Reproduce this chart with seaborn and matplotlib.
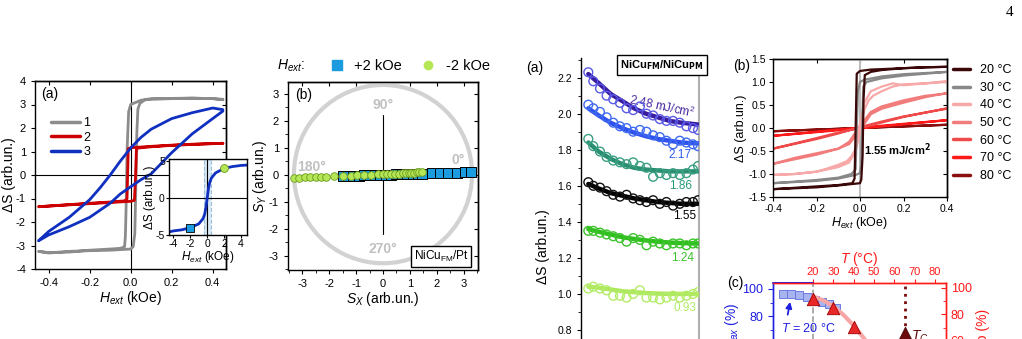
import matplotlib
matplotlib.use("Agg")
import matplotlib.pyplot as plt
import matplotlib.patches as mpatches
from matplotlib.lines import Line2D
from matplotlib.ticker import MultipleLocator, FormatStrFormatter
import seaborn as sns

# ---------------- data ----------------
# panel 1: hysteresis loops (descending branch + ascending branch)
gray_H = [0.45, 0.4, 0.3, 0.2, 0.1, 0.05, 0.0, -0.01, -0.018, -0.022, -0.026, -0.03, -0.05, -0.1, -0.2, -0.3, -0.4, -0.45,
          -0.4, -0.3, -0.2, -0.1, 0.0, 0.012, 0.02, 0.025, 0.03, 0.035, 0.045, 0.07, 0.1, 0.2, 0.3, 0.4, 0.45]
gray_S = [3.2, 3.25, 3.27, 3.26, 3.25, 3.18, 3.0, 2.7, 1.0, -1.2, -2.6, -3.05, -3.12, -3.15, -3.2, -3.28, -3.3, -3.25,
          -3.32, -3.25, -3.22, -3.2, -3.15, -3.05, -2.5, -0.5, 1.8, 2.8, 3.05, 3.2, 3.22, 3.25, 3.27, 3.25, 3.22]
red_H = [0.45, 0.3, 0.2, 0.1, 0.0, -0.012, -0.015, -0.018, -0.03, -0.1, -0.2, -0.3, -0.45,
         -0.3, -0.2, -0.1, 0.0, 0.018, 0.024, 0.028, 0.04, 0.1, 0.2, 0.3, 0.45]
red_S = [1.35, 1.31, 1.27, 1.22, 1.16, 1.12, 0.0, -1.02, -1.1, -1.15, -1.2, -1.26, -1.35,
         -1.27, -1.22, -1.17, -1.12, -1.08, 0.0, 1.12, 1.15, 1.2, 1.26, 1.3, 1.35]
blue_H = [0.45, 0.4, 0.3, 0.2, 0.1, 0.05, 0.0, -0.05, -0.1, -0.15, -0.2, -0.3, -0.4, -0.45,
          -0.4, -0.3, -0.2, -0.1, -0.05, 0.0, 0.05, 0.1, 0.15, 0.2, 0.3, 0.4, 0.45]
blue_S = [2.78, 2.85, 2.65, 2.4, 1.95, 1.6, 1.15, 0.6, 0.0, -0.55, -1.05, -1.8, -2.4, -2.8,
          -2.55, -2.2, -1.8, -1.2, -0.8, -0.5, -0.2, 0.05, 0.5, 0.95, 1.75, 2.4, 2.72]
loop_labels = ["1", "2", "3"]

# inset curve
inset_H = [-4.6, -4.0, -3.0, -2.0, -1.0, -0.5, -0.3, -0.15, 0.0, 0.15, 0.3, 0.5, 1.0, 2.0, 3.0, 4.0, 4.7]
inset_S = [-4.6, -4.45, -4.3, -4.0, -3.5, -2.8, -2.2, -1.3, 0.0, 1.3, 2.1, 2.7, 3.4, 4.0, 4.25, 4.4, 4.45]

# panel 2: S_Y vs S_X
sq_x = [-1.5, -1.3, -1.1, -0.9, -0.7, -0.5, -0.3, -0.1, 0.1, 0.3, 0.5, 0.7, 0.9, 1.1, 1.3, 1.45,
        1.8, 2.1, 2.4, 2.75, 3.05, 3.25]
sq_y = [-0.05, -0.04, -0.03, -0.03, -0.02, -0.01, -0.01, 0.0, 0.0, 0.01, 0.02, 0.02, 0.03, 0.04, 0.05, 0.05,
        0.06, 0.07, 0.08, 0.08, 0.09, 0.1]
ci_x = [-3.3, -3.1, -2.9, -2.7, -2.5, -2.3, -2.1, -1.8, -1.5, -1.2, -0.95, -0.7, -0.45, -0.2, 0.0, 0.15,
        0.3, 0.45, 0.6, 0.75, 0.85, 0.95, 1.05, 1.15, 1.25, 1.35, 1.45]
ci_y = [-0.1, -0.1, -0.09, -0.09, -0.08, -0.07, -0.06, -0.03, -0.04, -0.03, -0.02, -0.02, 0.0, 0.02, 0.03, 0.03,
        0.04, 0.05, 0.05, 0.06, 0.07, 0.07, 0.08, 0.08, 0.09, 0.1, 0.1]

# panel 3 (a): decays for several anisotropy energies
energies = ["2.48 mJ/cm$^2$", "2.17", "1.86", "1.55", "1.24", "0.93"]
pts_x = [0.062, 0.104, 0.161, 0.217, 0.273, 0.33, 0.386, 0.442, 0.499, 0.555, 0.611, 0.668,
         0.724, 0.78, 0.837, 0.893, 0.949, 0.992]
pts_y = [
    [2.23, 2.18, 2.14, 2.10, 2.08, 2.06, 2.03, 2.02, 2.04, 2.0, 1.99, 1.97, 1.96, 1.96, 1.95, 1.93, 1.92, 1.91],
    [2.05, 2.03, 2.01, 1.98, 1.95, 1.93, 1.92, 1.90, 1.91, 1.90, 1.88, 1.87, 1.85, 1.83, 1.85, 1.84, 1.83, 1.82],
    [1.86, 1.82, 1.79, 1.76, 1.74, 1.73, 1.72, 1.73, 1.71, 1.70, 1.65, 1.67, 1.66, 1.67, 1.66, 1.67, 1.69, 1.71],
    [1.62, 1.60, 1.59, 1.57, 1.55, 1.54, 1.55, 1.53, 1.52, 1.51, 1.52, 1.50, 1.51, 1.49, 1.50, 1.51, 1.51, 1.52],
    [1.35, 1.35, 1.34, 1.33, 1.32, 1.31, 1.29, 1.31, 1.30, 1.27, 1.29, 1.28, 1.27, 1.28, 1.28, 1.27, 1.28, 1.28],
    [1.03, 1.04, 1.03, 1.02, 0.99, 0.99, 0.98, 1.0, 1.02, 0.98, 0.98, 0.97, 0.98, 0.99, 0.98, 0.99, 1.0, 1.01],
]
fit_x = [0.062, 0.15, 0.25, 0.35, 0.45, 0.55, 0.65, 0.75, 0.85, 0.99]
fit_y = [
    [2.22, 2.17, 2.11, 2.07, 2.03, 2.0, 1.98, 1.96, 1.95, 1.94],
    [2.03, 1.99, 1.95, 1.92, 1.895, 1.875, 1.86, 1.85, 1.84, 1.835],
    [1.84, 1.79, 1.75, 1.72, 1.70, 1.69, 1.685, 1.68, 1.68, 1.68],
    [1.61, 1.585, 1.56, 1.545, 1.53, 1.52, 1.51, 1.505, 1.50, 1.50],
    [1.36, 1.345, 1.33, 1.315, 1.305, 1.297, 1.29, 1.285, 1.282, 1.28],
    [1.04, 1.035, 1.025, 1.015, 1.01, 1.005, 1.002, 1.0, 1.0, 1.0],
]
label_pos = [(0.69, 2.04), (0.84, 1.77), (0.84, 1.60), (0.88, 1.43), (0.86, 1.20), (0.88, 0.92)]

# panel 4 (b): loops vs temperature
temps = ["20 °C", "30 °C", "40 °C", "50 °C", "60 °C", "70 °C", "80 °C"]
t_H = [
    [0.4, 0.3, 0.2, 0.1, 0.05, 0.0, -0.015, -0.02, -0.025, -0.035, -0.1, -0.2, -0.3, -0.4,
     -0.3, -0.2, -0.1, 0.0, 0.006, 0.012, 0.016, 0.022, 0.05, 0.1, 0.2, 0.3, 0.4],
    [0.4, 0.2, 0.1, 0.02, 0.0, -0.01, -0.015, -0.02, -0.04, -0.1, -0.2, -0.4,
     -0.2, -0.1, -0.02, 0.0, 0.005, 0.01, 0.015, 0.03, 0.1, 0.2, 0.4],
    [0.4, 0.3, 0.2, 0.15, 0.1, 0.05, 0.02, 0.0, -0.02, -0.04, -0.06, -0.1, -0.15, -0.2, -0.3, -0.4,
     -0.3, -0.2, -0.15, -0.1, -0.05, -0.02, 0.0, 0.02, 0.04, 0.06, 0.1, 0.15, 0.2, 0.3, 0.4],
    [0.4, 0.3, 0.2, 0.1, 0.05, 0.0, -0.05, -0.1, -0.2, -0.3, -0.4,
     -0.3, -0.2, -0.1, -0.05, 0.0, 0.05, 0.1, 0.2, 0.3, 0.4],
    [0.4, 0.2, 0.1, 0.0, -0.1, -0.2, -0.4, -0.2, -0.1, 0.0, 0.1, 0.2, 0.4],
    [0.4, 0.0, -0.4, 0.0, 0.4],
    [0.4, 0.0, -0.4, 0.0, 0.4],
]
t_S = [
    [1.33, 1.32, 1.3, 1.28, 1.27, 1.24, 1.18, 0.0, -1.1, -1.2, -1.24, -1.27, -1.3, -1.33,
     -1.31, -1.29, -1.25, -1.2, -1.12, -0.6, 0.6, 1.15, 1.22, 1.26, 1.3, 1.32, 1.33],
    [1.22, 1.17, 1.12, 1.05, 1.0, 0.8, 0.0, -0.9, -1.0, -1.08, -1.13, -1.2,
     -1.15, -1.1, -1.02, -0.98, -0.8, 0.0, 0.9, 1.0, 1.08, 1.14, 1.22],
    [1.0, 0.97, 0.93, 0.97, 0.9, 0.8, 0.55, 0.1, -0.45, -0.62, -0.72, -0.8, -0.88, -0.95, -1.0, -1.02,
     -1.0, -0.95, -0.9, -0.85, -0.75, -0.5, -0.1, 0.4, 0.6, 0.7, 0.8, 0.9, 0.95, 0.97, 1.02],
    [0.75, 0.7, 0.6, 0.47, 0.35, 0.05, -0.3, -0.45, -0.58, -0.68, -0.78,
     -0.65, -0.55, -0.45, -0.35, -0.05, 0.3, 0.42, 0.55, 0.67, 0.76],
    [0.42, 0.25, 0.14, 0.02, -0.12, -0.24, -0.45, -0.22, -0.1, 0.0, 0.12, 0.24, 0.43],
    [0.17, 0.01, -0.17, -0.01, 0.17],
    [0.07, 0.0, -0.07, 0.0, 0.07],
]
t_colors = ["#3a0808", "#888888", "#f7a8a8", "#f27c7c", "#ee4a4a", "#ff1a1a", "#8a1010"]

# panel 5 (c)
sq5_x = [5.0, 9.4, 13.0, 17.0, 21.0, 24.6, 28.0, 31.5]
sq5_y = [96.3, 96.3, 95.5, 94.0, 92.0, 90.4, 89.0, 86.0]
tri_T = [20, 30, 40]
tri_v = [91.5, 85.0, 70.5]
fit5_T = [20, 25, 30, 35, 40, 45, 50]
fit5_v = [93.5, 90.5, 86.0, 79.5, 71.5, 62.0, 51.0]
tc_T = 65
tc_v = 66.0

# ---------------- figure ----------------
W, H = 1022, 339
sns.set_style("ticks", {"axes.edgecolor": "black", "xtick.color": "black", "ytick.color": "black",
                        "text.color": "black", "axes.labelcolor": "black"})
plt.rcParams["font.family"] = ["Liberation Sans", "DejaVu Sans"]
plt.rcParams["mathtext.fontset"] = "custom"
plt.rcParams["mathtext.rm"] = "Liberation Sans"
plt.rcParams["mathtext.it"] = "Liberation Sans:italic"
plt.rcParams["axes.linewidth"] = 1.0
plt.rcParams["axes.unicode_minus"] = False

fig = plt.figure(figsize=(W / 100, H / 100), dpi=100)


def rect(l, t, r, b):
    return [l / W, 1 - b / H, (r - l) / W, (b - t) / H]


def ftext(x, y, s, **kw):
    fig.text(x / W, 1 - y / H, s, **kw)


def in_ticks(ax, xt=None, yt=None):
    if xt is not None:
        sx = ax.secondary_xaxis("top")
        sx.set_xticks(xt)
        sx.tick_params(direction="in", labeltop=False, length=3)
    if yt is not None:
        sy = ax.secondary_yaxis("right")
        sy.set_yticks(yt)
        sy.tick_params(direction="in", labelright=False, length=3)


# ---- panel 1 ----
ax1 = fig.add_axes(rect(35, 81, 226, 269))
ax1.axhline(0, color="black", lw=0.8)
ax1.axvline(0, color="black", lw=0.8)
loop_colors = ["#8c8c8c", "#cc0000", "#1030c0"]
for hh, ss, c in zip([gray_H, red_H, blue_H], [gray_S, red_S, blue_S], loop_colors):
    sns.lineplot(x=hh, y=ss, sort=False, estimator=None, color=c, lw=2.0, ax=ax1)
ax1.set_xlim(-0.467, 0.465)
ax1.set_ylim(-4, 4)
ax1.set_xticks([-0.4, -0.2, 0.0, 0.2, 0.4])
ax1.xaxis.set_major_formatter(FormatStrFormatter("%.1f"))
ax1.set_yticks(range(-4, 5))
ax1.tick_params(labelsize=8, length=3)
ax1.set_xlabel("$H_{ext}$ (kOe)", fontsize=10, labelpad=1)
ax1.set_ylabel("ΔS (arb.un.)", fontsize=10, labelpad=0)
in_ticks(ax1, [-0.4, -0.2, 0.0, 0.2, 0.4], list(range(-4, 5)))
ax1.text(0.03, 0.93, "(a)", transform=ax1.transAxes, fontsize=10, va="center")
h1 = [Line2D([], [], color=c, lw=2.5) for c in loop_colors]
ax1.legend(h1, loop_labels, loc="upper left", bbox_to_anchor=(0.05, 0.84), frameon=False,
           fontsize=9, handlelength=2.3, labelspacing=0.2, handletextpad=0.3, borderpad=0)

# inset
axi = fig.add_axes(rect(169, 159, 247, 235))
axi.axvspan(-0.4, 0.42, color="#d8e8f4", lw=0)
axi.axvline(-0.4, color="#9cc0dc", lw=0.8, ls="--")
axi.axvline(0.42, color="#9cc0dc", lw=0.8, ls="--")
axi.axvline(0, color="black", lw=0.8)
axi.axhline(0, color="black", lw=0.8)
sns.lineplot(x=inset_H, y=inset_S, sort=False, estimator=None, color="#1030c0", lw=2.0, ax=axi)
sns.scatterplot(x=[-2.0], y=[-4.0], marker="s", s=28, color="#1b9be0", edgecolor="black",
                linewidth=0.6, ax=axi, zorder=5)
sns.scatterplot(x=[2.0], y=[4.0], marker="o", s=32, color="#b5e655", edgecolor="#6a9a20",
                linewidth=0.6, ax=axi, zorder=5)
axi.set_xlim(-4.52, 4.71)
axi.set_ylim(-5, 5.27)
axi.set_xticks([-4, -2, 0, 2, 4])
axi.set_yticks([-5, 0, 5])
axi.tick_params(labelsize=7.5, length=2, pad=1)
axi.set_xlabel("$H_{ext}$ (kOe)", fontsize=8.5, labelpad=0)
axi.set_ylabel("ΔS (arb.un.)", fontsize=8.5, labelpad=0)

# ---- panel 2 ----
ax2 = fig.add_axes(rect(288, 82, 478, 270))
ax2.add_patch(mpatches.Circle((0, 0.03), 3.3, fill=False, ec="#d2d2d2", lw=3))
ax2.plot([0, 0], [-2.2, 2.2], color="black", lw=0.8)
sns.scatterplot(x=sq_x, y=sq_y, marker="s", s=45, color="#1b9be0", edgecolor="black", linewidth=0.7,
                ax=ax2, zorder=4)
sns.scatterplot(x=ci_x, y=ci_y, marker="o", s=30, color="#b5e655", edgecolor="#6a9a20", linewidth=0.6,
                ax=ax2, zorder=5)
for (tx, ty, s) in [(0, 2.6, "90°"), (0, -2.75, "270°"), (-2.63, 0.3, "180°"), (2.8, 0.55, "0°")]:
    ax2.text(tx, ty, s, color="#c0c0c0", fontsize=10, fontweight="bold", ha="center", va="center")
ax2.set_xlim(-3.52, 3.52)
ax2.set_ylim(-3.52, 3.44)
ax2.set_xticks(range(-3, 4))
ax2.set_yticks(range(-3, 4))
ax2.xaxis.set_minor_locator(MultipleLocator(0.5))
ax2.yaxis.set_minor_locator(MultipleLocator(0.5))
ax2.tick_params(labelsize=8, length=3)
ax2.tick_params(which="minor", length=2)
ax2.set_xlabel("$S_X$ (arb.un.)", fontsize=10, labelpad=1)
ax2.set_ylabel("$S_Y$ (arb.un.)", fontsize=10, labelpad=0)
in_ticks(ax2, list(range(-3, 4)), list(range(-3, 4)))
ax2.text(0.04, 0.93, "(b)", transform=ax2.transAxes, fontsize=10, va="center")
ax2.text(0.95, 0.07, "NiCu$_{\\rm FM}$/Pt", transform=ax2.transAxes, fontsize=8.5, ha="right", va="center",
         bbox=dict(boxstyle="square,pad=0.25", fc="white", ec="black", lw=1.0))
ftext(277, 66, "$H_{ext}$:", fontsize=10, va="center")
h2 = [Line2D([], [], ls="", marker="s", ms=7, mfc="#1b9be0", mec="#1b9be0"),
      Line2D([], [], ls="", marker="o", ms=6, mfc="#b5e655", mec="#b5e655")]
fig.legend(h2, ["+2 kOe", "-2 kOe"], loc="center left", bbox_to_anchor=(322 / W, 1 - 66 / H), ncol=2,
           frameon=False, fontsize=10.5, handlelength=1.0, handletextpad=0.7, columnspacing=1.3, borderpad=0)

# ---- panel 3 (a) ----
ax3 = fig.add_axes(rect(581, 58, 699, 400))
pt_colors = ["#5a5ae6", "#3f6af0", "#3a9e82", "#111111", "#3cc22c", "#b4ec68"]
ln_colors = ["#3a1c9e", "#2f52ee", "#2a8e70", "#000000", "#2fbf1c", "#aee85e"]
lab_colors = ["#4a2aa0", "#2f5cf0", "#2a9a78", "#000000", "#3cc22c", "#b0ec64"]
for k in range(len(energies)):
    sns.lineplot(x=fit_x, y=fit_y[k], sort=False, estimator=None, color=ln_colors[k], lw=3.2, ax=ax3, zorder=3)
    sns.scatterplot(x=pts_x, y=pts_y[k], marker="o", s=40, facecolor="none", edgecolor=pt_colors[k],
                    linewidth=1.0, ax=ax3, zorder=4)
    rot = -12 if k == 0 else 0
    ax3.text(label_pos[k][0], label_pos[k][1], energies[k], color=lab_colors[k], fontsize=8.5,
             ha="center", va="center", rotation=rot)
ax3.set_xlim(0, 1)
ax3.set_ylim(0.4115, 2.309)
ax3.set_yticks([0.8, 1.0, 1.2, 1.4, 1.6, 1.8, 2.0, 2.2])
ax3.yaxis.set_minor_locator(MultipleLocator(0.1))
ax3.yaxis.set_major_formatter(FormatStrFormatter("%.1f"))
ax3.set_xticks([])
ax3.tick_params(labelsize=7.5, length=3)
ax3.tick_params(which="minor", length=2)
ax3.spines["top"].set_visible(False)
ax3.spines["bottom"].set_visible(False)
ax3.spines["right"].set_color("#b0b0b0")
ax3.spines["right"].set_linewidth(1.5)
ftext(543, 247, "ΔS (arb.un.)", fontsize=10, rotation=90, ha="center", va="center")
ftext(526, 68, "(a)", fontsize=10, va="center")
ftext(662, 65, "NiCu$_{\\bf FM}$/NiCu$_{\\bf PM}$", fontsize=8, fontweight="bold", ha="center", va="center",
      bbox=dict(boxstyle="square,pad=0.3", fc="white", ec="black", lw=1.0))

# ---- panel 4 (b) ----
ax4 = fig.add_axes(rect(773, 59, 947, 197))
ax4.axvline(0, color="#bdbdbd", lw=1.5)
for k in range(len(temps) - 1, -1, -1):
    sns.lineplot(x=t_H[k], y=t_S[k], sort=False, estimator=None, color=t_colors[k], lw=1.6, ax=ax4)
ax4.set_xlim(-0.4, 0.4)
ax4.set_ylim(-1.5, 1.5)
ax4.set_xticks([-0.4, -0.2, 0.0, 0.2, 0.4])
ax4.xaxis.set_major_formatter(FormatStrFormatter("%.1f"))
ax4.set_yticks([-1.5, -1.0, -0.5, 0.0, 0.5, 1.0, 1.5])
ax4.yaxis.set_major_formatter(FormatStrFormatter("%.1f"))
ax4.tick_params(labelsize=7.5, length=3, pad=2)
ax4.set_xlabel("$H_{ext}$ (kOe)", fontsize=9, labelpad=1)
ax4.set_ylabel("ΔS (arb.un.)", fontsize=9, labelpad=1)
in_ticks(ax4, [-0.4, -0.2, 0.0, 0.2, 0.4], [-1.5, -1.0, -0.5, 0.0, 0.5, 1.0, 1.5])
ax4.text(0.02, -0.47, "1.55 mJ/cm$^{\\bf 2}$", fontsize=8, fontweight="bold", va="center")
ftext(733, 66, "(b)", fontsize=10, va="center")
h4 = [Line2D([], [], color=c, lw=2.5) for c in t_colors]
ax4.legend(h4, temps, loc="upper left", bbox_to_anchor=(947 / W, 1 - 58 / H), bbox_transform=fig.transFigure,
           frameon=False, fontsize=9, handlelength=1.3, labelspacing=0.45, handletextpad=0.8, borderpad=0)

# ---- panel 5 (c) ----
ax5 = fig.add_axes(rect(773, 283, 946, 420))
ax5r = ax5.twinx()
blue5, red5 = "#2020e0", "#ff1a1a"
ax5.axvline(20, color="#a0a0a0", lw=1.2, ls="--", zorder=1)
sns.scatterplot(x=sq5_x, y=sq5_y, marker="s", s=30, color="#a8b4f0", edgecolor="#6a7ce0", linewidth=0.7,
                ax=ax5, zorder=3)
ax5.annotate("", xy=(9.0, 92.5), xytext=(7.3, 79), arrowprops=dict(arrowstyle="-|>", color=blue5, lw=1.3,
                                                                     mutation_scale=9))
ax5.text(4.4, 71, "$T$ = 20 °C", color=blue5, fontsize=9, ha="left", va="center")
sns.lineplot(x=fit5_T, y=fit5_v, sort=False, estimator=None, color="#f6a6a6", lw=3, ax=ax5r, zorder=2)
sns.scatterplot(x=tri_T, y=tri_v, marker="^", s=80, color="#e82828", edgecolor="#a00000", linewidth=0.6,
                ax=ax5r, zorder=4)
ax5r.plot([tc_T, tc_T], [tc_v, 110], color="#7a0a0a", lw=2, ls=":")
sns.scatterplot(x=[tc_T], y=[tc_v], marker="^", s=80, color="#6a0a0a", edgecolor="#4a0000", linewidth=0.6,
                ax=ax5r, zorder=4)
ax5r.text(tc_T + 3, tc_v - 3, "$T_C$", color="#5a0a0a", fontsize=10, va="center")
ax5.set_xlim(0.32, 85.4)
ax5.set_ylim(3, 104.44)
ax5r.set_ylim(0.5, 103.5)
ax5.xaxis.tick_top()
ax5.xaxis.set_label_position("top")
ax5.set_xticks([20, 30, 40, 50, 60, 70, 80])
ax5.tick_params(axis="x", colors=red5, labelsize=8, length=3, pad=1)
ax5.set_xlabel("$T$ (°C)", color=red5, fontsize=10, labelpad=3.5)
ax5.set_yticks([60, 80, 100])
ax5.yaxis.set_minor_locator(MultipleLocator(10))
ax5.tick_params(axis="y", which="both", colors=blue5, labelsize=9)
ax5r.set_yticks([60, 80, 100])
ax5r.yaxis.set_minor_locator(MultipleLocator(10))
ax5r.tick_params(axis="y", which="both", colors=red5, labelsize=9, direction="in")
for a in (ax5, ax5r):
    a.spines["bottom"].set_visible(False)
    a.spines["left"].set_color(blue5)
    a.spines["right"].set_color(red5)
    a.spines["top"].set_color(red5)
ax5r.set_ylabel("")
ax5.plot([0.32, 20], [1, 1], transform=ax5.get_xaxis_transform(), color=blue5, lw=1.4, clip_on=False, zorder=6)
ftext(732, 303, "ΔS/ΔS$_{max}$ (%)", color=blue5, fontsize=10, rotation=90, ha="center", va="top")
ftext(983, 309, "Ratio (%)", color=red5, fontsize=10, rotation=90, ha="center", va="top")
ftext(727, 283, "(c)", fontsize=10, va="center")

ftext(1010, 13, "4", fontsize=11, family="Liberation Serif", ha="center", va="center")

fig.savefig("out.png", dpi=100)
